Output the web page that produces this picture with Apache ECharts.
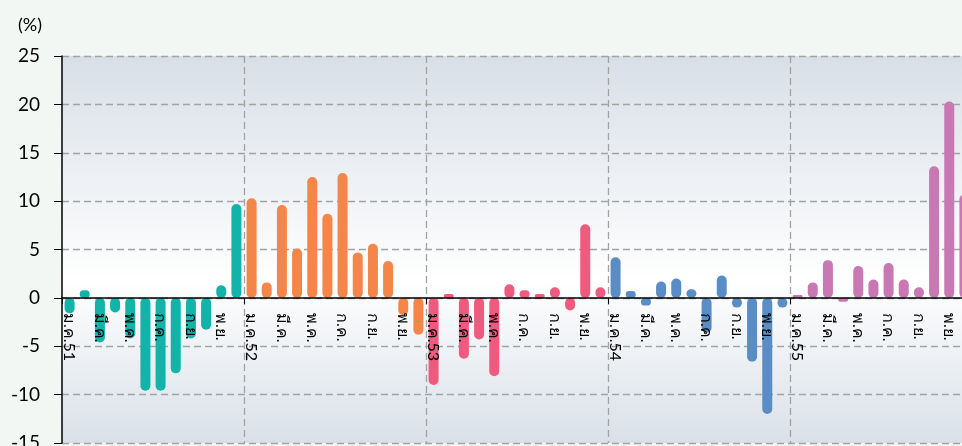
<!DOCTYPE html>
<html>
<head>
<meta charset="utf-8">
<script src="https://cdn.jsdelivr.net/npm/echarts@6/dist/echarts.min.js"></script>
<style>
  html, body { margin: 0; padding: 0; background: #f2f7f3; }
  #main { width: 962px; height: 446px; }
</style>
</head>
<body>
<div id="main"></div>
<script>
// เดือน / ปี (พ.ศ.)
var months = ['ม.ค.', 'ก.พ.', 'มี.ค.', 'เม.ย.', 'พ.ค.', 'มิ.ย.', 'ก.ค.', 'ส.ค.', 'ก.ย.', 'ต.ค.', 'พ.ย.', 'ธ.ค.'];
var years = ['51', '52', '53', '54', '55'];
var yearColors = ['#12b3a8', '#f5864a', '#ef5b7e', '#5a8cc6', '#c878b2'];

// ค่ารายเดือน (%)
var y51 = [-1.6, 0.8, -4.6, -1.5, -4.2, -9.6, -9.6, -7.8, -4.2, -3.3, 1.3, 9.7];
var y52 = [10.3, 1.6, 9.6, 5.1, 12.5, 8.7, 12.9, 4.7, 5.6, 3.8, -1.8, -3.8];
var y53 = [-9.0, 0.4, -6.3, -4.3, -8.1, 1.4, 0.8, 0.4, 1.1, -1.3, 7.6, 1.1];
var y54 = [4.2, 0.7, -0.8, 1.7, 2.0, 0.9, -3.6, 2.3, -1.0, -6.6, -12.0, -1.0];
var y55 = [0.3, 1.6, 3.9, -0.4, 3.3, 1.9, 3.6, 1.9, 1.1, 13.6, 20.3, 10.7];

var yTicks = { min: -15, max: 25, interval: 5 };

var categories = [];
years.forEach(function (yr) {
    months.forEach(function (m, i) {
        categories.push(i === 0 ? m + yr : m);
    });
});
var values = [].concat(y51, y52, y53, y54, y55);

var gridTop = 56, gridBottom = 3, H = 446;
var plotH = H - gridTop - gridBottom;
// เลื่อนแกน x ขึ้นไปที่ระดับ 0
var zeroOffset = -plotH * (0 - yTicks.min) / (yTicks.max - yTicks.min);

var chart = echarts.init(document.getElementById('main'));
var font = "Lato, 'Noto Sans', sans-serif";

var option = {
    backgroundColor: '#f2f7f3',
    animation: false,
    title: {
        text: '(%)',
        left: 13,
        top: 11,
        textStyle: { color: '#000', fontSize: 18, fontWeight: 'normal', fontFamily: font }
    },
    grid: {
        left: 62,
        right: -10,
        top: gridTop,
        bottom: gridBottom,
        containLabel: false,
        outerBoundsMode: 'none',
        show: true,
        borderWidth: 0,
        backgroundColor: {
            type: 'linear', x: 0, y: 0, x2: 0, y2: 1,
            colorStops: [
                { offset: 0, color: '#d8dfe7' },
                { offset: 0.58, color: '#ffffff' },
                { offset: 1, color: '#d9e0e8' }
            ]
        }
    },
    xAxis: {
        type: 'category',
        data: categories,
        position: 'bottom',
        offset: zeroOffset,
        z: 5,
        axisLine: { onZero: false, lineStyle: { color: '#000', width: 1.5 } },
        axisTick: {
            show: true,
            length: 6,
            interval: function (i) { return i % 12 === 0; },
            lineStyle: { color: '#000' }
        },
        axisLabel: {
            rotate: -90,
            margin: 15,
            color: '#000',
            fontSize: 16,
            fontFamily: font,
            interval: function (i) { return i % 2 === 0; }
        },
        splitLine: {
            show: true,
            interval: function (i) { return i % 12 === 0 && i > 0; },
            lineStyle: { color: '#a3a3a3', type: [7, 4], width: 1.3 }
        }
    },
    yAxis: {
        type: 'value',
        min: yTicks.min,
        max: yTicks.max,
        interval: yTicks.interval,
        axisLine: { show: true, lineStyle: { color: '#000', width: 1.5 } },
        axisTick: { show: true, length: 8, lineStyle: { color: '#000' } },
        axisLabel: { color: '#000', fontSize: 19, margin: 22, fontFamily: font },
        splitLine: { lineStyle: { color: '#a3a3a3', type: [7, 4], width: 1.3 } }
    },
    series: [{
        type: 'bar',
        data: values,
        barWidth: 10,
        itemStyle: {
            borderRadius: 5,
            color: function (p) { return yearColors[Math.floor(p.dataIndex / 12)]; }
        }
    }]
};

chart.setOption(option);
</script>
</body>
</html>
